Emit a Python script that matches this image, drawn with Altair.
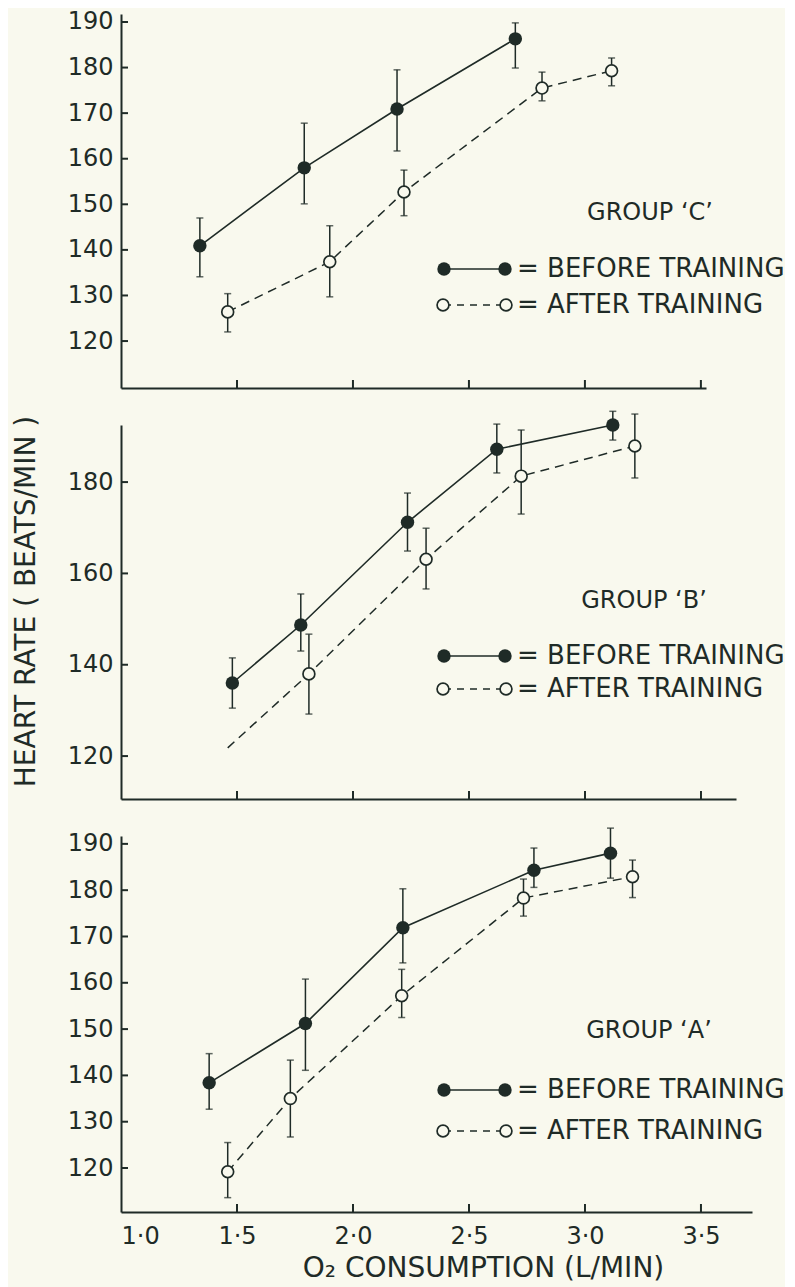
import altair as alt
import pandas as pd

INK = "#1f2b27"
BG = "#f9f9ee"
FONT = "DejaVu Sans"

group_labels = ["GROUP ‘C’", "GROUP ‘B’", "GROUP ‘A’"]
legend_before = "= BEFORE TRAINING"
legend_after = "= AFTER TRAINING"
x_title = "O₂ CONSUMPTION (L/MIN)"
y_title = "HEART RATE ( BEATS/MIN )"
x_label_values = [1.0, 1.5, 2.0, 2.5, 3.0, 3.5]
x_tick_values = [1.5, 2.0, 2.5, 3.0, 3.5]

# ---- Group C (top) ----
c_before_x = [1.34, 1.79, 2.19, 2.70]
c_before_y = [140.9, 158.0, 170.9, 186.3]
c_before_lo = [134.1, 150.1, 161.7, 179.9]
c_before_hi = [147.0, 167.8, 179.5, 189.8]
c_after_x = [1.46, 1.90, 2.22, 2.815, 3.115]
c_after_y = [126.4, 137.4, 152.7, 175.5, 179.3]
c_after_lo = [122.0, 129.7, 147.5, 172.7, 176.0]
c_after_hi = [130.4, 145.3, 157.5, 179.0, 182.1]
c_yticks = [120, 130, 140, 150, 160, 170, 180, 190]

# ---- Group B (middle) ----
b_before_x = [1.48, 1.775, 2.235, 2.62, 3.12]
b_before_y = [136.0, 148.7, 171.2, 187.2, 192.5]
b_before_lo = [130.5, 143.0, 164.9, 182.0, 189.2]
b_before_hi = [141.5, 155.5, 177.6, 192.7, 195.5]
b_after_x = [1.81, 2.315, 2.725, 3.215]
b_after_y = [138.0, 163.1, 181.3, 187.9]
b_after_lo = [129.2, 156.6, 173.0, 180.9]
b_after_hi = [146.7, 169.9, 191.4, 194.9]
b_after_tail_x = [1.46]
b_after_tail_y = [121.8]
b_yticks = [120, 140, 160, 180]

# ---- Group A (bottom) ----
a_before_x = [1.38, 1.795, 2.215, 2.78, 3.11]
a_before_y = [138.4, 151.2, 171.9, 184.3, 188.0]
a_before_lo = [132.7, 141.1, 164.3, 180.6, 182.6]
a_before_hi = [144.7, 160.8, 180.3, 189.1, 193.4]
a_after_x = [1.46, 1.73, 2.21, 2.735, 3.205]
a_after_y = [119.2, 135.0, 157.2, 178.3, 182.9]
a_after_lo = [113.6, 126.7, 152.5, 174.4, 178.4]
a_after_hi = [125.5, 143.3, 162.9, 182.4, 186.5]
a_yticks = [120, 130, 140, 150, 160, 170, 180, 190]

FILLED_SIZE = 180
OPEN_SIZE = 140


def panel(label, bx, by, blo, bhi, ax, ay, alo, ahi, yticks, width, height,
          xmax, ydom, bottom, with_ytitle, leg, tail_x=(), tail_y=()):
    xs = alt.Scale(domain=[1.0, xmax], nice=False, zero=False)
    ys = alt.Scale(domain=ydom, nice=False, zero=False)

    xkw = dict(values=x_label_values, ticks=False, grid=False, domainColor=INK,
               domainWidth=2, labels=bottom)
    if bottom:
        xkw.update(labelExpr="replace(format(datum.value, '.1f'), '.', '·')",
                   labelFontSize=24, labelColor=INK, labelFont=FONT, labelPadding=12,
                   title=x_title, titleFont=FONT, titleFontSize=28, titleColor=INK,
                   titleFontWeight="normal", titleX=362, titleY=56,
                   titleAlign="center", titleBaseline="middle")
    else:
        xkw.update(title="")
    xaxis = alt.Axis(**xkw)

    ykw = dict(values=yticks, ticks=False, grid=False, domainColor=INK, domainWidth=2,
               labelFontSize=24, labelColor=INK, labelFont=FONT, labelPadding=8,
               format="d")
    if with_ytitle:
        ykw.update(title=y_title, titleFont=FONT, titleFontSize=28, titleColor=INK,
                   titleFontWeight="normal", titleX=-95, titleY=176, titleAngle=270,
                   titleAlign="center", titleBaseline="middle")
    else:
        ykw.update(title="")
    yaxis = alt.Axis(**ykw)

    before = pd.DataFrame({"x": bx, "y": by, "lo": blo, "hi": bhi})
    after = pd.DataFrame({"x": ax, "y": ay, "lo": alo, "hi": ahi})
    after_line = pd.concat([
        pd.DataFrame({"x": list(tail_x), "y": list(tail_y)}),
        after[["x", "y"]]
    ]).sort_values("x")
    errs = pd.concat([before, after])

    X = lambda f: alt.X(f + ":Q", scale=xs, axis=xaxis)
    Y = lambda f: alt.Y(f + ":Q", scale=ys, axis=yaxis)

    err_rule = alt.Chart(errs).mark_rule(color=INK, strokeWidth=1.5).encode(
        x=X("x"), y=Y("lo"), y2="hi")
    cap_lo = alt.Chart(errs).mark_tick(orient="horizontal", color=INK, size=7,
                                       thickness=1.5).encode(x=X("x"), y=Y("lo"))
    cap_hi = alt.Chart(errs).mark_tick(orient="horizontal", color=INK, size=7,
                                       thickness=1.5).encode(x=X("x"), y=Y("hi"))
    line_b = alt.Chart(before).mark_line(color=INK, strokeWidth=1.6).encode(
        x=X("x"), y=Y("y"), order="x:Q")
    line_a = alt.Chart(after_line).mark_line(color=INK, strokeWidth=1.5,
                                             strokeDash=[9, 6]).encode(
        x=X("x"), y=Y("y"), order="x:Q")
    pts_b = alt.Chart(before).mark_point(shape="circle", filled=True, size=FILLED_SIZE,
                                         color=INK, opacity=1).encode(x=X("x"), y=Y("y"))
    pts_a = alt.Chart(after).mark_point(shape="circle", size=OPEN_SIZE, fill=BG, stroke=INK,
                                        strokeWidth=1.7, fillOpacity=1, opacity=1).encode(
        x=X("x"), y=Y("y"))

    ytick_rules = alt.Chart(pd.DataFrame({"v": yticks})).mark_rule(
        color=INK, strokeWidth=2).encode(y=Y("v"), x=alt.value(0), x2=alt.value(7))
    xtick_rules = alt.Chart(pd.DataFrame({"v": x_tick_values})).mark_rule(
        color=INK, strokeWidth=2).encode(x=X("v"), y=alt.value(height),
                                         y2=alt.value(height - 8))

    gx, gy, yb, ya = leg
    one = pd.DataFrame({"t": [label]})
    group_txt = alt.Chart(one).mark_text(font=FONT, fontSize=24, color=INK,
                                         align="center", baseline="middle").encode(
        text="t:N", x=alt.value(gx), y=alt.value(gy))
    lb = pd.DataFrame({"t": [legend_before]})
    la = pd.DataFrame({"t": [legend_after]})
    leg_b_line = alt.Chart(lb).mark_rule(color=INK, strokeWidth=1.6).encode(
        x=alt.value(323), x2=alt.value(384), y=alt.value(yb))
    leg_b_p1 = alt.Chart(lb).mark_point(shape="circle", filled=True, size=FILLED_SIZE,
                                        color=INK, opacity=1).encode(
        x=alt.value(323), y=alt.value(yb))
    leg_b_p2 = alt.Chart(lb).mark_point(shape="circle", filled=True, size=FILLED_SIZE,
                                        color=INK, opacity=1).encode(
        x=alt.value(384), y=alt.value(yb))
    leg_b_txt = alt.Chart(lb).mark_text(font=FONT, fontSize=26, color=INK, align="left",
                                        baseline="middle").encode(
        text="t:N", x=alt.value(396), y=alt.value(yb))
    leg_a_line = alt.Chart(la).mark_rule(color=INK, strokeWidth=1.5,
                                         strokeDash=[7, 6]).encode(
        x=alt.value(323), x2=alt.value(385), y=alt.value(ya))
    leg_a_p1 = alt.Chart(la).mark_point(shape="circle", size=OPEN_SIZE, fill=BG, stroke=INK,
                                        strokeWidth=1.7, fillOpacity=1, opacity=1).encode(
        x=alt.value(322), y=alt.value(ya))
    leg_a_p2 = alt.Chart(la).mark_point(shape="circle", size=OPEN_SIZE, fill=BG, stroke=INK,
                                        strokeWidth=1.7, fillOpacity=1, opacity=1).encode(
        x=alt.value(385), y=alt.value(ya))
    leg_a_txt = alt.Chart(la).mark_text(font=FONT, fontSize=26, color=INK, align="left",
                                        baseline="middle").encode(
        text="t:N", x=alt.value(396), y=alt.value(ya))

    return alt.layer(
        err_rule, cap_lo, cap_hi, line_b, line_a, pts_b, pts_a,
        ytick_rules, xtick_rules,
        group_txt, leg_b_line, leg_b_p1, leg_b_p2, leg_b_txt,
        leg_a_line, leg_a_p1, leg_a_p2, leg_a_txt,
    ).properties(width=width, height=height)


top = panel(group_labels[0], c_before_x, c_before_y, c_before_lo, c_before_hi,
            c_after_x, c_after_y, c_after_lo, c_after_hi, c_yticks,
            585, 374, 3.522, [109.7, 191.75], False, False, (529, 199, 255, 291))
mid = panel(group_labels[1], b_before_x, b_before_y, b_before_lo, b_before_hi,
            b_after_x, b_after_y, b_after_lo, b_after_hi, b_yticks,
            615, 374, 3.651, [110.6, 192.5], False, True, (523, 176, 231, 264),
            b_after_tail_x, b_after_tail_y)
bot = panel(group_labels[2], a_before_x, a_before_y, a_before_lo, a_before_hi,
            a_after_x, a_after_y, a_after_lo, a_after_hi, a_yticks,
            631, 376, 3.72, [110.5, 191.7], True, False, (528, 195, 254, 295))

chart = alt.vconcat(top, mid, bot, spacing=37, bounds="flush").properties(
    background=BG,
    padding={"left": 3, "top": 1, "right": 0, "bottom": 5},
).configure_view(stroke=None)

chart.save("out.html", embed_options={"renderer": "svg", "actions": False})
